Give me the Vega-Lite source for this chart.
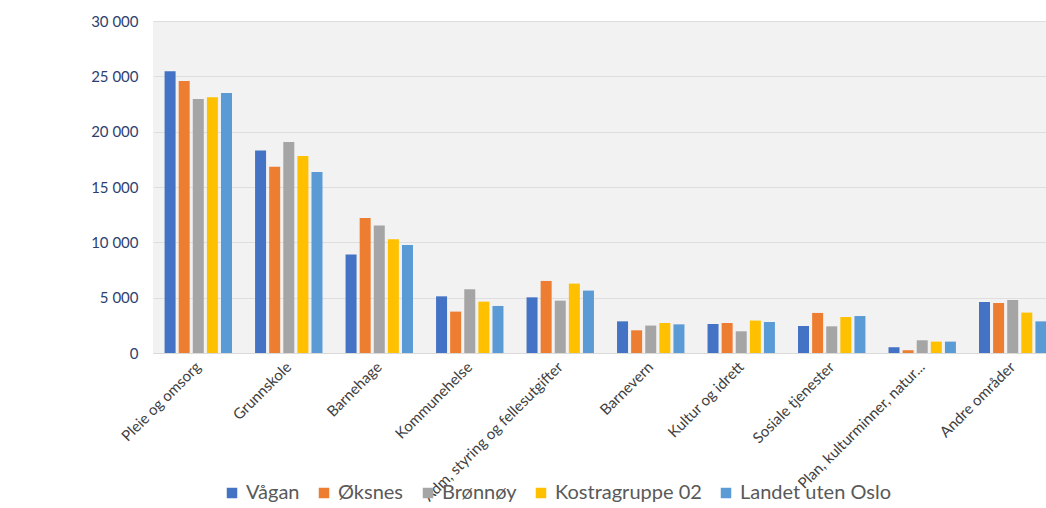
{
  "$schema": "https://vega.github.io/schema/vega-lite/v6.json",
  "autosize": {"type": "none"},
  "width": 893,
  "height": 332,
  "padding": {"left": 153, "top": 21, "right": 0, "bottom": 155},
  "background": "white",
  "config": {
    "font": "Lato",
    "view": {"fill": "#F2F2F2", "stroke": null},
    "axis": {"ticks": false, "domain": false, "gridColor": "#DEDEDE", "gridWidth": 1.2}
  },
  "data": {
    "values": [
      {"k": "Pleie og omsorg", "s": "Vågan", "v": 25450},
      {"k": "Pleie og omsorg", "s": "Øksnes", "v": 24580},
      {"k": "Pleie og omsorg", "s": "Brønnøy", "v": 22950},
      {"k": "Pleie og omsorg", "s": "Kostragruppe 02", "v": 23100},
      {"k": "Pleie og omsorg", "s": "Landet uten Oslo", "v": 23490},
      {"k": "Grunnskole", "s": "Vågan", "v": 18290},
      {"k": "Grunnskole", "s": "Øksnes", "v": 16840},
      {"k": "Grunnskole", "s": "Brønnøy", "v": 19070},
      {"k": "Grunnskole", "s": "Kostragruppe 02", "v": 17800},
      {"k": "Grunnskole", "s": "Landet uten Oslo", "v": 16360},
      {"k": "Barnehage", "s": "Vågan", "v": 8890},
      {"k": "Barnehage", "s": "Øksnes", "v": 12200},
      {"k": "Barnehage", "s": "Brønnøy", "v": 11510},
      {"k": "Barnehage", "s": "Kostragruppe 02", "v": 10270},
      {"k": "Barnehage", "s": "Landet uten Oslo", "v": 9760},
      {"k": "Kommunehelse", "s": "Vågan", "v": 5120},
      {"k": "Kommunehelse", "s": "Øksnes", "v": 3740},
      {"k": "Kommunehelse", "s": "Brønnøy", "v": 5760},
      {"k": "Kommunehelse", "s": "Kostragruppe 02", "v": 4640},
      {"k": "Kommunehelse", "s": "Landet uten Oslo", "v": 4250},
      {"k": "Adm, styring og fellesutgifter", "s": "Vågan", "v": 5030},
      {"k": "Adm, styring og fellesutgifter", "s": "Øksnes", "v": 6510},
      {"k": "Adm, styring og fellesutgifter", "s": "Brønnøy", "v": 4730},
      {"k": "Adm, styring og fellesutgifter", "s": "Kostragruppe 02", "v": 6270},
      {"k": "Adm, styring og fellesutgifter", "s": "Landet uten Oslo", "v": 5640},
      {"k": "Barnevern", "s": "Vågan", "v": 2860},
      {"k": "Barnevern", "s": "Øksnes", "v": 2050},
      {"k": "Barnevern", "s": "Brønnøy", "v": 2480},
      {"k": "Barnevern", "s": "Kostragruppe 02", "v": 2710},
      {"k": "Barnevern", "s": "Landet uten Oslo", "v": 2590},
      {"k": "Kultur og idrett", "s": "Vågan", "v": 2620},
      {"k": "Kultur og idrett", "s": "Øksnes", "v": 2710},
      {"k": "Kultur og idrett", "s": "Brønnøy", "v": 1960},
      {"k": "Kultur og idrett", "s": "Kostragruppe 02", "v": 2930},
      {"k": "Kultur og idrett", "s": "Landet uten Oslo", "v": 2800},
      {"k": "Sosiale tjenester", "s": "Vågan", "v": 2440},
      {"k": "Sosiale tjenester", "s": "Øksnes", "v": 3620},
      {"k": "Sosiale tjenester", "s": "Brønnøy", "v": 2410},
      {"k": "Sosiale tjenester", "s": "Kostragruppe 02", "v": 3250},
      {"k": "Sosiale tjenester", "s": "Landet uten Oslo", "v": 3340},
      {"k": "Plan, kulturminner, natur...", "s": "Vågan", "v": 520},
      {"k": "Plan, kulturminner, natur...", "s": "Øksnes", "v": 250},
      {"k": "Plan, kulturminner, natur...", "s": "Brønnøy", "v": 1150},
      {"k": "Plan, kulturminner, natur...", "s": "Kostragruppe 02", "v": 1030},
      {"k": "Plan, kulturminner, natur...", "s": "Landet uten Oslo", "v": 1030},
      {"k": "Andre områder", "s": "Vågan", "v": 4610},
      {"k": "Andre områder", "s": "Øksnes", "v": 4520},
      {"k": "Andre områder", "s": "Brønnøy", "v": 4790},
      {"k": "Andre områder", "s": "Kostragruppe 02", "v": 3650},
      {"k": "Andre områder", "s": "Landet uten Oslo", "v": 2860}
    ]
  },
  "mark": {"type": "bar"},
  "encoding": {
    "x": {
      "field": "k",
      "type": "nominal",
      "sort": null,
      "title": null,
      "scale": {"range": [0, 905], "paddingInner": 0.255, "paddingOuter": 0.128},
      "axis": {
        "grid": false,
        "domain": true,
        "domainColor": "#D9D9D9",
        "labelAngle": -45,
        "labelAlign": "right",
        "labelBaseline": "middle",
        "labelPadding": 11,
        "labelFontSize": 15,
        "labelColor": "#404040",
        "labelLimit": 300
      }
    },
    "xOffset": {
      "field": "s",
      "type": "nominal",
      "sort": ["Vågan", "Øksnes", "Brønnøy", "Kostragruppe 02", "Landet uten Oslo"],
      "scale": {"paddingInner": 0.22, "paddingOuter": 0}
    },
    "y": {
      "field": "v",
      "type": "quantitative",
      "title": null,
      "scale": {"domain": [0, 30000], "nice": false},
      "axis": {
        "values": [0, 5000, 10000, 15000, 20000, 25000, 30000],
        "labelExpr": "replace(format(datum.value, ',d'), ',', ' ')",
        "labelFontSize": 15,
        "labelColor": "#2E3F6E",
        "labelPadding": 15
      }
    },
    "color": {
      "field": "s",
      "type": "nominal",
      "sort": ["Vågan", "Øksnes", "Brønnøy", "Kostragruppe 02", "Landet uten Oslo"],
      "scale": {
        "domain": ["Vågan", "Øksnes", "Brønnøy", "Kostragruppe 02", "Landet uten Oslo"],
        "range": ["#4472C4", "#ED7D31", "#A5A5A5", "#FFC000", "#5B9BD5"]
      },
      "legend": {
        "title": null,
        "orient": "none",
        "direction": "horizontal",
        "legendX": 69,
        "legendY": 462,
        "symbolType": "square",
        "symbolSize": 110,
        "symbolStrokeWidth": 0,
        "labelFontSize": 20,
        "labelColor": "#595959",
        "labelOffset": 4,
        "columnPadding": 14
      }
    }
  }
}
